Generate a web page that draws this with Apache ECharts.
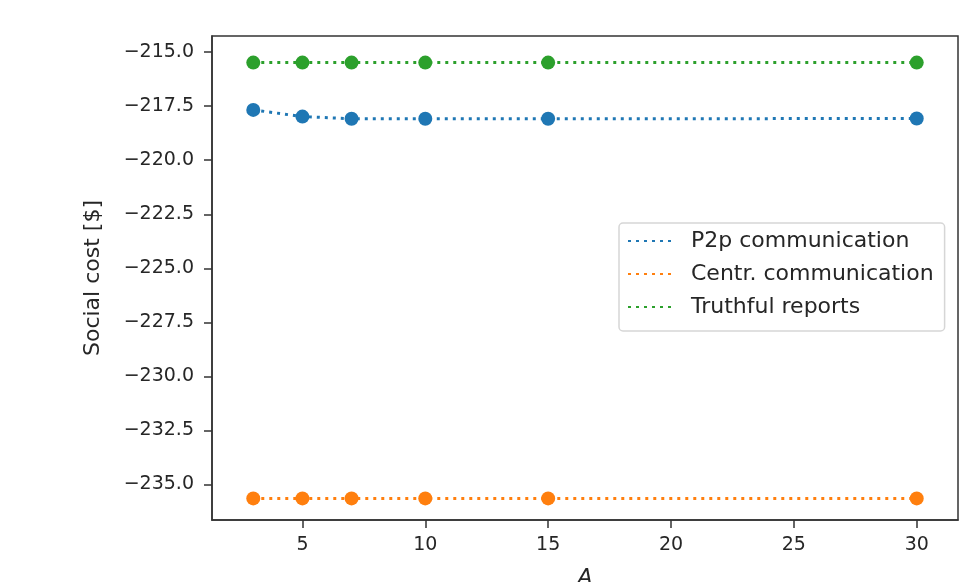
<!DOCTYPE html>
<html>
<head>
<meta charset="utf-8">
<script src="https://cdn.jsdelivr.net/npm/echarts@6/dist/echarts.min.js"></script>
<style>
  html, body { margin: 0; padding: 0; background: #fff; }
  #chart { width: 979px; height: 582px; }
</style>
</head>
<body>
<div id="chart"></div>
<script>
// 数据
var xValues = [3, 5, 7, 10, 15, 30];
var p2pCost = [-217.67, -217.98, -218.08, -218.08, -218.08, -218.07];
var centrCost = [-235.65, -235.65, -235.65, -235.65, -235.65, -235.65];
var truthfulCost = [-215.48, -215.48, -215.48, -215.48, -215.48, -215.48];
var xTicks = [5, 10, 15, 20, 25, 30];
var yTicks = [-235, -232.5, -230, -227.5, -225, -222.5, -220, -217.5, -215];

function pairs(ys) {
    return xValues.map(function (x, i) { return [x, ys[i]]; });
}

function makeSeries(name, ys, color) {
    return {
        name: name,
        type: 'line',
        data: pairs(ys),
        symbol: 'circle',
        symbolSize: 14,
        itemStyle: { color: color },
        lineStyle: { color: color, width: 3, type: [3, 5], cap: 'butt' },
        emphasis: { disabled: true },
        animation: false
    };
}

var textColor = '#262626';
var font = 'DejaVu Sans';

var chart = echarts.init(document.getElementById('chart'));
chart.setOption({
    animation: false,
    textStyle: { fontFamily: font },
    grid: {
        left: 212, top: 36, right: 21, bottom: 62,
        show: true, borderColor: '#333', borderWidth: 1.5,
        containLabel: false,
        outerBoundsMode: 'none'
    },
    legend: {
        orient: 'vertical',
        left: 619, top: 223,
        padding: [7, 11, 13, 8],
        itemWidth: 43, itemHeight: 22, itemGap: 11,
        backgroundColor: '#fff',
        borderColor: '#d6d6d6', borderWidth: 1.5, borderRadius: 4,
        itemStyle: { opacity: 0 },
        textStyle: { fontSize: 22, color: textColor, fontFamily: font, padding: [0, 0, 0, 15] },
        data: ['P2p communication', 'Centr. communication', 'Truthful reports']
    },
    xAxis: {
        type: 'value',
        min: 1.32, max: 31.68,
        name: 'A',
        nameLocation: 'middle',
        nameGap: 47,
        nameTextStyle: { fontSize: 22, color: textColor, fontStyle: 'italic', fontFamily: font },
        axisLine: { show: true, lineStyle: { color: '#333', width: 1.5 } },
        axisTick: { show: true, length: 8, customValues: xTicks, lineStyle: { color: '#333', width: 1.5 } },
        axisLabel: { customValues: xTicks, fontSize: 19, color: textColor, margin: 16, fontFamily: font },
        splitLine: { show: false }
    },
    yAxis: {
        type: 'value',
        min: -236.65, max: -214.25,
        name: 'Social cost [$]',
        nameLocation: 'middle',
        nameGap: 108,
        nameRotate: 90,
        nameTextStyle: { fontSize: 22, color: textColor, fontFamily: font },
        axisLine: { show: true, lineStyle: { color: '#333', width: 1.5 } },
        axisTick: { show: true, length: 8, customValues: yTicks, lineStyle: { color: '#333', width: 1.5 } },
        axisLabel: {
            customValues: yTicks, fontSize: 19, color: textColor, margin: 18, fontFamily: font,
            formatter: function (v) { return v.toFixed(1).replace('-', '\u2212'); }
        },
        splitLine: { show: false }
    },
    series: [
        makeSeries('P2p communication', p2pCost, '#1f77b4'),
        makeSeries('Centr. communication', centrCost, '#ff7f0e'),
        makeSeries('Truthful reports', truthfulCost, '#2ca02c')
    ]
});
</script>
</body>
</html>
